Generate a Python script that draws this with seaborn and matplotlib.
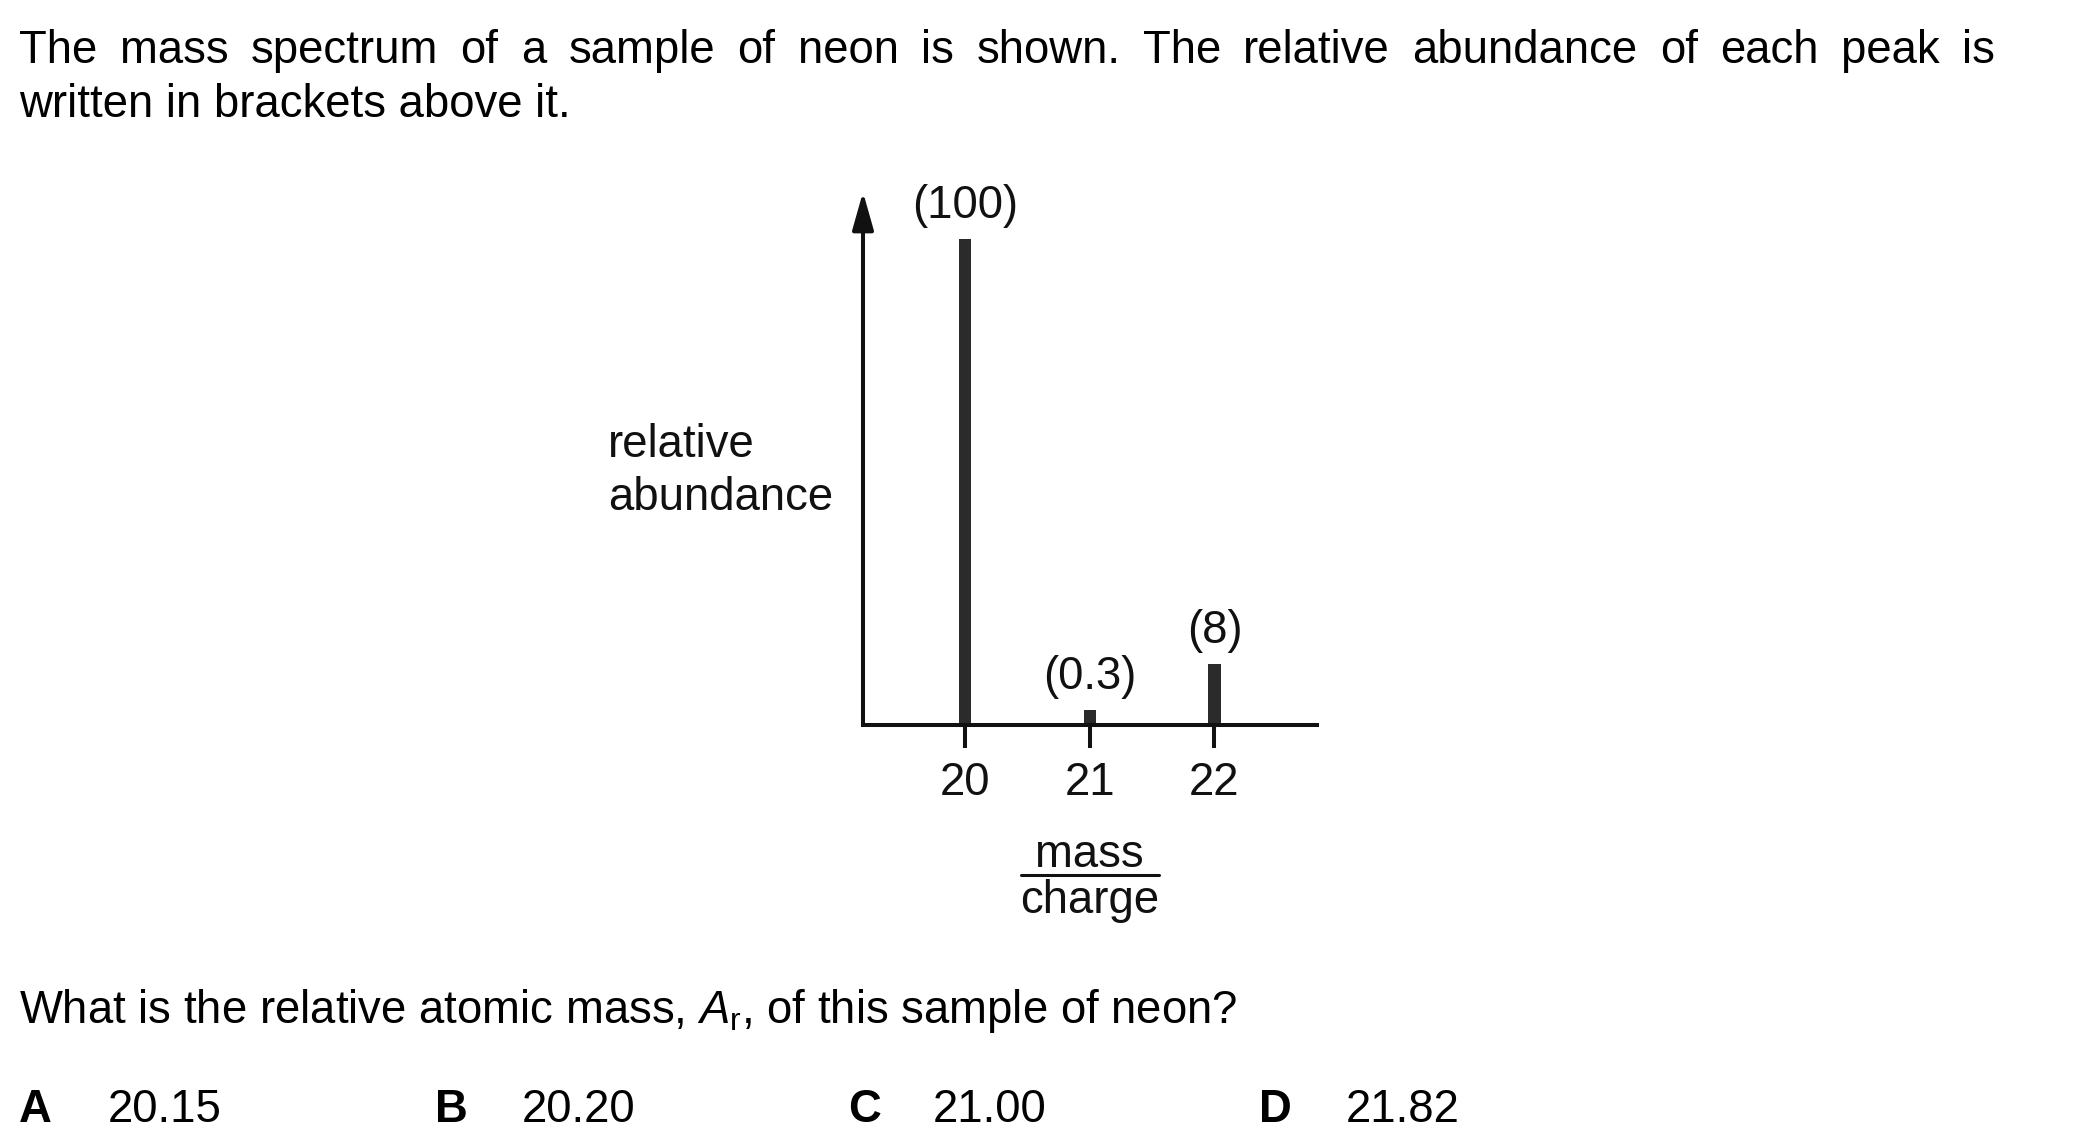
import matplotlib
matplotlib.use("Agg")
import matplotlib.pyplot as plt
import matplotlib.transforms as mtransforms
from matplotlib.lines import Line2D
import seaborn as sns

# peaks of the neon mass spectrum
mass_charge = [20, 21, 22]
abundance = [100, 0.3, 8]          # values written in brackets
drawn_height = [100, 3.1, 12.6]    # bar heights as drawn (not to scale)

header_lines = [
    "The mass spectrum of a sample of neon is shown. The relative abundance of each peak is",
    "written in brackets above it.",
]
question = "What is the relative atomic mass, $A_{\\mathrm{r}}$, of this sample of neon?"
option_letters = ["A", "B", "C", "D"]
option_values = ["20.15", "20.20", "21.00", "21.82"]

sns.set_theme(style="white")
plt.rcParams["font.family"] = ["Liberation Sans", "DejaVu Sans"]
plt.rcParams["mathtext.fontset"] = "custom"
plt.rcParams["mathtext.rm"] = "Liberation Sans"
plt.rcParams["mathtext.it"] = "Liberation Sans:italic"

FS = 32.8
INK = "#111111"
BAR = "#2b2b2b"
W, H = 2100, 1148

fig = plt.figure(figsize=(W / 100, H / 100), dpi=100)
fig.patch.set_facecolor("white")


def fx(px):
    return px / W


def fy(py):
    return 1 - py / H


# axes box: y axis at x=863px, x axis at y=725px, arrow tip at 192px
ax = fig.add_axes([fx(863), fy(725), fx(1317 - 863), (725 - 192) / H])
ax.set_facecolor("none")

sns.barplot(x=mass_charge, y=drawn_height, native_scale=True, width=0.1,
            color=BAR, saturation=1, edgecolor="none", linewidth=0, ax=ax)

ax.bar_label(ax.containers[0], labels=[f"({v:g})" for v in abundance],
             padding=8, fontsize=FS, color=INK)

ax.set_xlim(19.182, 22.822)
ax.set_ylim(0, 109.7)
ax.set_xticks(mass_charge)
ax.set_xticklabels([str(m) for m in mass_charge])
ax.set_yticks([])
ax.set_xlabel("")
ax.set_ylabel("")

for side in ["top", "right", "left"]:
    ax.spines[side].set_visible(False)
ax.spines["bottom"].set_linewidth(2.9)
ax.spines["bottom"].set_color(INK)
ax.tick_params(axis="x", direction="out", length=16.5, width=2.9,
               color=INK, pad=9.4, labelsize=FS, labelcolor=INK, bottom=True)

# vertical axis with arrow head
ax.annotate("", xy=(0, 1), xytext=(0, 0), xycoords="axes fraction",
            arrowprops=dict(arrowstyle="-|>,head_length=23,head_width=6.5",
                            mutation_scale=1, lw=2.9, color=INK,
                            shrinkA=0, shrinkB=0))

# axis titles
fig.text(fx(608), fy(457), "relative", fontsize=FS, color=INK, va="baseline")
fig.text(fx(608), fy(510), "abundance", fontsize=FS, color=INK, va="baseline")

trans = mtransforms.blended_transform_factory(ax.transData, fig.transFigure)
ax.text(21, fy(867), "mass", transform=trans, fontsize=FS, color=INK,
        ha="center", va="baseline")
ax.text(21, fy(913), "charge", transform=trans, fontsize=FS, color=INK,
        ha="center", va="baseline")
fig.add_artist(Line2D([fx(1021), fx(1159)], [fy(875), fy(875)],
                      lw=2.2, color=INK))

# first header line is justified between x=19 and x=1995 px
renderer = fig.canvas.get_renderer()
words = header_lines[0].split()
word_texts = [fig.text(0, fy(63), w, fontsize=FS, color="black", va="baseline")
              for w in words]
widths = [t.get_window_extent(renderer).width for t in word_texts]
gap = (1995 - 19 - sum(widths)) / (len(words) - 1)
x = 19
for t, w in zip(word_texts, widths):
    t.set_x(fx(x))
    x += w + gap

fig.text(fx(19), fy(117), header_lines[1], fontsize=FS, color="black", va="baseline")
fig.text(fx(19), fy(1023), question, fontsize=FS, color="black", va="baseline")

letter_x = [19, 435, 848, 1259]
value_x = [108, 522, 933, 1346]
for lx, vx, letter, val in zip(letter_x, value_x, option_letters, option_values):
    fig.text(fx(lx), fy(1122), letter, fontsize=FS, fontweight="bold",
             color="black", va="baseline")
    fig.text(fx(vx), fy(1122), val, fontsize=FS, color="black", va="baseline")

fig.savefig("out.png", dpi=100, facecolor="white")
